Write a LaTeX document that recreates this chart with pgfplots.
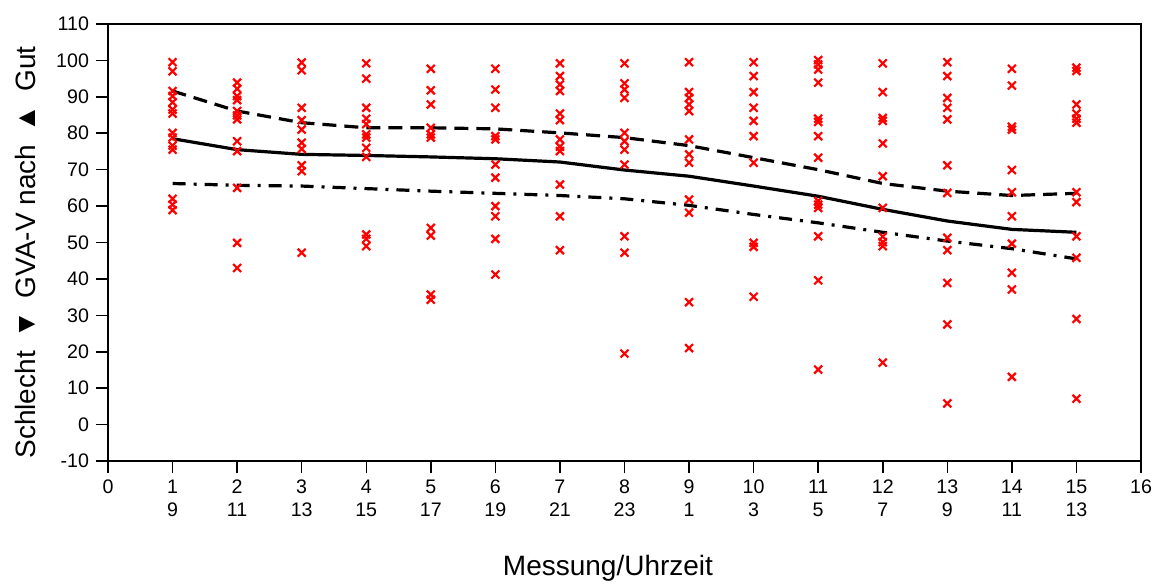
\documentclass[border=0pt]{standalone}
\usepackage{fontspec}
\setmainfont{Liberation Sans}
\usepackage{pgfplots}
\pgfplotsset{compat=1.18}
\usepackage{pgfplotstable}

% Einzelwerte je Messung (x = Messung, y = Bewertung)
\pgfplotstableread{
x y
1 99.5
1 97
1 91.6
1 90.2
1 88.5
1 86.5
1 85.4
1 80.1
1 78.8
1 76.6
1 75.5
1 62
1 60.4
1 58.9
2 93.9
2 92.2
2 90.2
2 89.1
2 86.1
2 84.9
2 83.8
2 77.8
2 75.1
2 65
2 49.9
2 43
3 99.4
3 97.3
3 87
3 83.6
3 81
3 77.4
3 75.7
3 71.2
3 69.6
3 47.2
4 99.2
4 95
4 87
4 84
4 82.5
4 79.7
4 78.8
4 76
4 73.5
4 52.2
4 51
4 49
5 97.7
5 91.8
5 87.9
5 81.5
5 79.7
5 78.8
5 54
5 51.9
5 35.7
5 34.3
6 97.7
6 92
6 87
6 79.2
6 78.3
6 71.4
6 67.8
6 60
6 57.2
6 51
6 41.2
7 99.2
7 95.7
7 93.4
7 91.6
7 85.4
7 83.6
7 78.3
7 76.3
7 75.1
7 65.9
7 57.2
7 47.9
8 99.2
8 93.7
8 92
8 89.7
8 80.1
8 77.8
8 75.5
8 71.4
8 51.7
8 47.2
8 19.5
9 99.5
9 91.3
9 89.7
9 87.9
9 86.1
9 78.3
9 74.2
9 71.9
9 61.8
9 58.2
9 33.6
9 21
10 99.5
10 95.7
10 91.3
10 87
10 83.4
10 79.2
10 71.9
10 49.9
10 48.8
10 35.1
11 100.1
11 98.9
11 97.5
11 93.9
11 84
11 83.1
11 79.2
11 73.3
11 61.4
11 60.4
11 59.5
11 51.7
11 39.6
11 15.1
12 99.2
12 91.3
12 84.2
12 83.4
12 77.2
12 68.2
12 59.5
12 51.6
12 50.1
12 49
12 17
13 99.5
13 95.7
13 89.7
13 87
13 83.8
13 71.2
13 63.6
13 51.3
13 47.9
13 38.9
13 27.5
13 5.8
14 97.7
14 93.1
14 81.8
14 81
14 69.9
14 63.8
14 57.2
14 49.7
14 41.7
14 37.1
14 13.1
15 98
15 97.1
15 87.9
15 85.4
15 84
15 82.9
15 63.8
15 61.1
15 51.7
15 45.8
15 29
15 7.1
}\einzel

% Verlaufslinien: mittel, oben (gestrichelt), unten (strichpunktiert)
\pgfplotstableread{
x mittel oben unten
1 78.5 91.6 66.2
2 75.5 86.1 65.7
3 74.2 82.9 65.5
4 73.9 81.5 64.8
5 73.5 81.5 64.1
6 73.0 81.2 63.5
7 72.1 80.1 62.9
8 69.9 78.8 62.0
9 68.2 76.6 60.2
10 65.5 73.3 57.7
11 62.7 70.0 55.4
12 59.1 66.2 52.8
13 55.9 64.1 50.4
14 53.6 62.9 48.3
15 52.8 63.5 45.5
}\linien

\begin{document}
\begin{tikzpicture}
\begin{axis}[
    width=516.5pt, height=218.5pt,
    scale only axis,
    xmin=0, xmax=16,
    ymin=-10, ymax=110,
    axis line style={line width=0.8pt},
    xtick={0,...,16},
    xticklabels={0,{1\\9},{2\\11},{3\\13},{4\\15},{5\\17},{6\\19},{7\\21},{8\\23},
                 {9\\1},{10\\3},{11\\5},{12\\7},{13\\9},{14\\11},{15\\13},16},
    ytick={-10,0,...,110},
    yticklabels={-10,0,10,20,30,40,50,60,70,80,90,100,110},
    xtick pos=bottom, ytick pos=left,
    tick align=outside,
    major tick length=6pt,
    every tick/.style={black, line width=0.75pt},
    xticklabel style={align=center, font=\fontsize{9.8}{11.5}\selectfont},
    yticklabel style={font=\fontsize{9.8}{11.5}\selectfont},
    xlabel={Messung/Uhrzeit},
    xlabel style={at={(axis description cs:0.484,-0.261)}, anchor=base,
                  font=\fontsize{14}{16}\selectfont},
    ylabel={Schlecht\hspace{0.45em}▼\hspace{0.45em}GVA-V nach\hspace{0.45em}▲\hspace{0.45em}Gut},
    ylabel style={at={(axis description cs:-0.0697,0.477)}, anchor=base,
                  font=\fontsize{14}{16}\selectfont},
    clip=false,
]
\addplot[only marks, mark=x, mark size=2.8pt, red, line width=1.1pt]
    table[x=x, y=y] {\einzel};
\addplot[black, line width=1.6pt, dash pattern=on 7pt off 4pt]
    table[x=x, y=oben] {\linien};
\addplot[black, line width=1.6pt]
    table[x=x, y=mittel] {\linien};
\addplot[black, line width=1.6pt, dash pattern=on 6.5pt off 4pt on 1.5pt off 4pt]
    table[x=x, y=unten] {\linien};
\end{axis}
\path (current axis.south west) ++(-54pt,-62pt) rectangle ++(581pt,292.5pt);
\end{tikzpicture}
\end{document}
